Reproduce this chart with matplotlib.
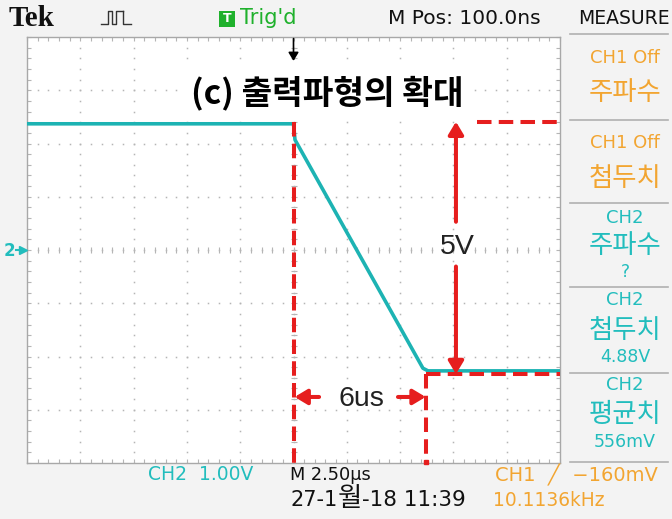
import matplotlib
matplotlib.use('Agg')
import matplotlib.pyplot as plt
import numpy as np
from matplotlib.patches import Rectangle
from matplotlib.lines import Line2D

time_us = [-12.5, 0.0, 0.07, 6.07, 6.31, 12.5]
ch2_volts = [2.37, 2.37, 2.07, -2.22, -2.27, -2.27]

fall_start_us = 0.0
fall_end_us = 6.2
level_high_v = 2.41
level_low_v = -2.33
amp_arrow_us = 7.62
amp_gap = [0.53, -0.31]
width_arrow_v = -2.76
width_arrow_ends = [1.2, 4.9]

title_text = "(c) 출력파형의 확대"
amp_label = "5V"
width_label = "6us"

measure_items = [("CH1 Off", "주파수", ""), ("CH1 Off", "첨두치", ""),
                 ("CH2", "주파수", "?"), ("CH2", "첨두치", "4.88V"),
                 ("CH2", "평균치", "556mV")]

W, H = 672, 519
TEAL = '#22bdbd'
TRACE = '#1db3b3'
ORANGE = '#f2a531'
RED = '#e61e1e'
GRID = '#b5b5b5'
KR = ['Noto Sans CJK KR', 'DejaVu Sans']
SYM = ['DejaVu Sans', 'Noto Sans CJK KR']

fig = plt.figure(figsize=(6.72, 5.19), dpi=100, facecolor='#f3f3f3')


def fx(px):
    return px / W


def fy(py):
    return 1 - py / H


ax = fig.add_axes([fx(27), fy(463), 533 / W, 426 / H])
ax.set_facecolor('white')
ax.set_xlim(-12.5, 12.5)
ax.set_ylim(-4, 4)
for s in ax.spines.values():
    s.set_color('#a8a8a8')
    s.set_linewidth(1)
ax.set_xticks([])
ax.set_yticks([])
ax.set_xticks(np.arange(-12.5, 12.51, 0.5), minor=True)
ax.set_yticks(np.arange(-4, 4.01, 0.2), minor=True)
ax.tick_params(which='minor', direction='in', length=3, width=0.8, color=GRID,
               top=True, right=True, labelbottom=False, labelleft=False)

# graticule dots
for xv in np.arange(-10, 10.1, 2.5):
    yy = np.arange(-4, 4.01, 0.2)
    ax.plot(np.full_like(yy, xv), yy, ls='none', marker='s', ms=1.1, color=GRID, mew=0)
for yv in np.arange(-3, 3.1, 1):
    xx = np.arange(-12.5, 12.51, 0.5)
    ax.plot(xx, np.full_like(xx, yv), ls='none', marker='s', ms=1.1, color=GRID, mew=0)
# centre cross ticks
xx = np.arange(-12.5, 12.51, 0.5)
ax.plot(xx, np.zeros_like(xx), ls='none', marker='|', ms=5, color=GRID, mew=0.8)
yy = np.arange(-4, 4.01, 0.2)
ax.plot(np.zeros_like(yy), yy, ls='none', marker='_', ms=5, color=GRID, mew=0.8)

# trace
ax.plot(time_us, ch2_volts, color=TRACE, lw=2.6, solid_joinstyle='round', zorder=3)

# red annotations
dash = dict(color=RED, lw=2.9, dashes=(3.6, 1.8), zorder=4)
ax.plot([fall_start_us, fall_start_us], [level_high_v, -4], **dash)
ax.plot([fall_end_us, fall_end_us], [level_low_v, -4], **dash)
ax.plot([fall_end_us, 12.5], [level_low_v, level_low_v], **dash)
ax.plot([8.61, 12.5], [level_high_v, level_high_v], **dash)

ap = dict(arrowstyle='-|>,head_length=0.75,head_width=0.45', color=RED, lw=2.9,
          mutation_scale=10, shrinkA=0, shrinkB=0)
ax.annotate('', xy=(amp_arrow_us, level_high_v), xytext=(amp_arrow_us, amp_gap[0]),
            arrowprops=ap, zorder=5)
ax.annotate('', xy=(amp_arrow_us, level_low_v), xytext=(amp_arrow_us, amp_gap[1]),
            arrowprops=ap, zorder=5)
ax.annotate('', xy=(fall_start_us + 0.05, width_arrow_v), xytext=(width_arrow_ends[0], width_arrow_v),
            arrowprops=ap, zorder=5)
ax.annotate('', xy=(fall_end_us, width_arrow_v), xytext=(width_arrow_ends[1], width_arrow_v),
            arrowprops=ap, zorder=5)
ax.text(amp_arrow_us + 0.05, 0.06, amp_label, fontsize=20.5, ha='center', va='center',
        family='Liberation Sans', color='#222222', zorder=6)
ax.text(3.2, -2.8, width_label, fontsize=20.5, ha='center', va='center',
        family='Liberation Sans', color='#222222', zorder=6)

# title with white box
ax.text(1.57, 2.95, title_text, fontsize=24, fontweight='bold', ha='center', va='center',
        family=KR, color='black', zorder=7,
        bbox=dict(boxstyle='square,pad=0.3', fc='white', ec='none'))

# trigger marker at top
ax.annotate('', xy=(0, 3.55), xytext=(0, 3.97),
            arrowprops=dict(arrowstyle='-|>,head_length=0.5,head_width=0.3', color='black',
                            lw=1.2, mutation_scale=10, shrinkA=0, shrinkB=0), zorder=8)
ax.plot([fall_end_us], [-3.98], marker='s', ms=3, color=RED, clip_on=False, zorder=8)

# channel 2 ground marker
fig.text(fx(9), fy(251), '2', color=TEAL, fontsize=12, fontweight='bold', ha='center', va='center')
fig.add_artist(Line2D([fx(16), fx(22)], [fy(250), fy(250)], color=TEAL, lw=1.5))
fig.add_artist(Line2D([fx(23)], [fy(250)], marker='>', ms=6, color=TEAL, ls='none'))

# ---------- top bar ----------
fig.text(fx(9), fy(18), 'Tek', fontsize=21, fontweight='bold', family='Liberation Serif',
         ha='left', va='center', color='#111111')
pulse_x = np.array([101, 108, 108, 112, 112, 116, 116, 123])
pulse_y = np.array([24, 24, 11, 11, 24, 24, 11, 11])
fig.add_artist(Line2D(fx(pulse_x), fy(pulse_y), color='#333333', lw=1))
fig.add_artist(Line2D(fx(np.array([123, 123, 131])), fy(np.array([11, 24, 24])), color='#333333', lw=1))
fig.add_artist(Rectangle((fx(219), fy(27)), 16 / W, 16 / H, fc='#1fb12c', ec='none'))
fig.text(fx(227), fy(19), 'T', color='white', fontsize=9, fontweight='bold', ha='center', va='center')
fig.text(fx(240), fy(18), "Trig'd", color='#1fb12c', fontsize=15, ha='left', va='center')
fig.text(fx(388), fy(18), 'M Pos: 100.0ns', color='#111111', fontsize=14.5, ha='left', va='center')
fig.text(fx(624), fy(18), 'MEASURE', color='#111111', fontsize=13.5, ha='center', va='center')

# ---------- measure panel ----------
sep_y = [34, 120, 203, 287, 373, 462]
for y in sep_y:
    fig.add_artist(Line2D([fx(570), fx(668)], [fy(y), fy(y)], color='#b0b0b0', lw=1.2))
centers = [(58, 92, None), (143, 178, None), (218, 245, 272), (300, 330, 357), (385, 415, 442)]
for (head, name, val), (y1, y2, y3) in zip(measure_items, centers):
    col = ORANGE if head.startswith('CH1') else TEAL
    fig.text(fx(625), fy(y1), head, color=col, fontsize=13, ha='center', va='center')
    fig.text(fx(625), fy(y2), name, color=col, fontsize=19, ha='center', va='center', family=KR)
    if val:
        fig.text(fx(625), fy(y3), val, color=col, fontsize=12.5, ha='center', va='center')

# ---------- bottom bar ----------
fig.text(fx(148), fy(475), 'CH2  1.00V', color=TEAL, fontsize=13.5, ha='left', va='center')
fig.text(fx(290), fy(475), 'M 2.50µs', color='#111111', fontsize=12.8, ha='left', va='center')
fig.text(fx(495), fy(475), 'CH1  ╱  −160mV', color=ORANGE, fontsize=14, ha='left', va='center',
         family=SYM)
fig.text(fx(290), fy(500), '27-1', color='#111111', fontsize=15, ha='left', va='center')
fig.text(fx(350), fy(498), '월', color='#111111', fontsize=19, ha='center', va='center', family=KR)
fig.text(fx(362), fy(500), '-18 11:39', color='#111111', fontsize=15.5, ha='left', va='center')
fig.text(fx(493), fy(500), '10.1136kHz', color=ORANGE, fontsize=13.4, ha='left', va='center')

fig.savefig('out.png', dpi=100, facecolor=fig.get_facecolor())
